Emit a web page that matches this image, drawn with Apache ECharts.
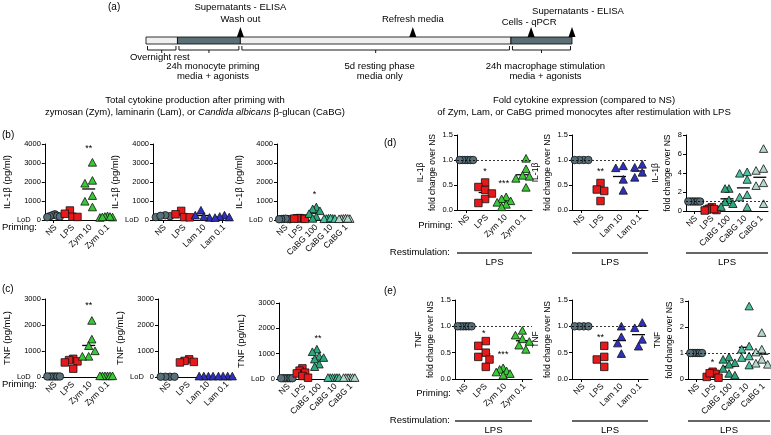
<!DOCTYPE html>
<html><head><meta charset="utf-8">
<script src="https://cdn.jsdelivr.net/npm/echarts@6/dist/echarts.min.js"></script>
<style>html,body{margin:0;padding:0;background:#fff}#c{width:771px;height:435px}</style>
</head><body><div id="c"></div>
<script>
// ================= DATA =================
// (a) timeline (schematic units along the bar)
const timelinePhases = ['Overnight rest', '24h monocyte priming', '5d resting phase', '24h macrophage stimulation'];
const timelinePhases2 = ['', 'media + agonists', 'media only', 'media + agonists'];
const timelineStart = [0, 0.5, 1.5, 5.8];
const timelineEnd = [0.5, 1.5, 5.8, 6.77];
const timelineEvents = [['Supernatants - ELISA', 'Wash out'], ['Refresh media'], ['Cells - qPCR'], ['Supernatants - ELISA']];
const timelineEventAt = [1.5, 4.24, 6.12, 6.77];

// categories
const catsZym = ['NS', 'LPS', 'Zym 10', 'Zym 0.1'];
const catsLam = ['NS', 'LPS', 'Lam 10', 'Lam 0.1'];
const catsCaBG = ['NS', 'LPS', 'CaBG 100', 'CaBG 10', 'CaBG 1'];

// (b) IL-1β pg/ml
const il1bZym = [[300, 250, 200, 150, 220, 180], [500, 330, 170, 160], [3000, 2050, 1900, 1250, 950, 650], [180, 150, 120, 100, 150, 130]];
const il1bLam = [[200, 250, 150, 220], [480, 300, 150, 140], [480, 220, 100, 140], [220, 150, 90, 120]];
const il1bCaBG = [[60, 40, 50, 70, 50, 40], [100, 80, 60, 90, 70], [650, 550, 450, 300, 150, 50], [60, 40, 50, 30, 70, 40], [50, 40, 60, 30, 40, 50]];
// (c) TNF pg/mL
const tnfZym = [[20, 20, 20, 20, 20, 20], [700, 650, 600, 560, 320], [2150, 1430, 1180, 980, 770, 770], [20, 20, 20, 20, 20, 20]];
const tnfLam = [[10, 10, 10, 10], [680, 620, 580, 560], [10, 10, 10, 10], [10, 10, 10, 10]];
const tnfCaBG = [[30, 30, 30, 30, 30, 30], [420, 330, 250, 220, 120, 50], [1150, 1050, 870, 820, 760, 560, 460], [30, 30, 30, 30, 30, 30], [30, 30, 30, 30, 30, 30]];
// (d) IL-1β fold change over NS
const foldIl1bZym = [[1, 1, 1, 1, 1, 1], [0.55, 0.46, 0.40, 0.33, 0.22, 0.14], [0.25, 0.21, 0.17, 0.14, 0.10, 0.05], [1.02, 0.81, 0.68, 0.66, 0.62, 0.44]];
const foldIl1bLam = [[1, 1, 1, 1], [0.54, 0.41, 0.38, 0.18], [0.87, 0.83, 0.60, 0.38], [0.90, 0.84, 0.74, 0.64]];
const foldIl1bCaBG = [[1, 1, 1, 1, 1, 1], [0.40, 0.25, 0.15, 0.10, 0.20, 0.05], [2.3, 2.3, 1.1, 0.9, 0.7, 0.4], [4.05, 3.9, 3.25, 1.65, 1.4, 0.35], [6.5, 4.4, 4.2, 2.9, 2.6, 0.7]];
// (e) TNF fold change over NS
const foldTnfZym = [[1, 1, 1, 1, 1, 1], [0.72, 0.63, 0.50, 0.42, 0.37, 0.23], [0.20, 0.17, 0.14, 0.12, 0.09, 0.06], [0.91, 0.82, 0.75, 0.70, 0.63, 0.55]];
const foldTnfLam = [[1, 1, 1, 1], [0.63, 0.42, 0.37, 0.23], [0.99, 0.79, 0.67, 0.47], [1.06, 0.96, 0.74, 0.61]];
const foldTnfCaBG = [[1, 1, 1, 1, 1, 1], [0.28, 0.20, 0.08, 0.05, 0.22], [0.82, 0.73, 0.60, 0.54, 0.38, 0.19, 0.12], [2.78, 1.24, 1.12, 0.86, 0.80, 0.51], [1.76, 1.12, 1.01, 0.73, 0.58, 0.54]];

// significance marks: [category, text, height]
const sigB1 = [['Zym 10', '**', 3750]];
const sigB2 = [];
const sigB3 = [['CaBG 100', '*', 1350]];
const sigC1 = [['Zym 10', '**', 2750]];
const sigC2 = [];
const sigC3 = [['CaBG 100', '**', 1600]];
const sigD1 = [['LPS', '*', 0.76], ['Zym 10', '***', 0.52]];
const sigD2 = [['LPS', '**', 0.77]];
const sigD3 = [];
const sigE1 = [['LPS', '*', 0.87], ['Zym 10', '***', 0.46]];
const sigE2 = [['LPS', '**', 0.78]];
const sigE3 = [['LPS', '*', 0.62]];

// ================= STYLE / LAYOUT =================
const FONT = 'Liberation Sans, Arial, sans-serif';
const catColor = {
  'NS': '#587079', 'LPS': '#e8191b',
  'Zym 10': '#39c936', 'Zym 0.1': '#39c936',
  'Lam 10': '#3030c0', 'Lam 0.1': '#3030c0',
  'CaBG 100': '#2aa87c', 'CaBG 10': '#4cc3a0', 'CaBG 1': '#b2d9cb'
};
const SYM = 7.5;

const plots = [
  {cats: catsZym, vals: il1bZym, sig: sigB1, max: 4000, step: 1000, name: 'IL-1β (pg/ml)', lod: true, ref: false, fmt: 0, g: {left: 42, top: 144, width: 73, height: 76}, gap: 16, nfs: 9.5},
  {cats: catsLam, vals: il1bLam, sig: sigB2, max: 4000, step: 1000, name: 'IL-1β (pg/ml)', lod: true, ref: false, fmt: 0, g: {left: 153, top: 144, width: 79, height: 76}, gap: 16, nfs: 9.5},
  {cats: catsCaBG, vals: il1bCaBG, sig: sigB3, max: 4000, step: 1000, name: 'IL-1β (pg/ml)', lod: true, ref: false, fmt: 0, g: {left: 277, top: 144, width: 75, height: 76}, gap: 16, nfs: 9.5},
  {cats: catsZym, vals: tnfZym, sig: sigC1, max: 3000, step: 1000, name: 'TNF (pg/mL)', lod: true, ref: false, fmt: 0, g: {left: 42, top: 299, width: 73, height: 78}, gap: 16, nfs: 9.5},
  {cats: catsLam, vals: tnfLam, sig: sigC2, max: 3000, step: 1000, name: 'TNF (pg/mL)', lod: true, ref: false, fmt: 0, g: {left: 158, top: 299, width: 77, height: 78}, gap: 16, nfs: 9.5},
  {cats: catsCaBG, vals: tnfCaBG, sig: sigC3, max: 3000, step: 1000, name: 'TNF (pg/mL)', lod: true, ref: false, fmt: 0, g: {left: 279, top: 303, width: 78, height: 76}, gap: 16, nfs: 9.5},
  {cats: catsZym, vals: foldIl1bZym, sig: sigD1, max: 1.5, step: 0.5, name: 'IL-1β\nfold change over NS', lod: false, ref: true, fmt: 1, g: {left: 457, top: 135, width: 75, height: 75}, gap: 8, nfs: 8.5},
  {cats: catsLam, vals: foldIl1bLam, sig: sigD2, max: 1.5, step: 0.5, name: 'IL-1β\nfold change over NS', lod: false, ref: true, fmt: 1, g: {left: 572, top: 135, width: 76, height: 75}, gap: 8, nfs: 8.5},
  {cats: catsCaBG, vals: foldIl1bCaBG, sig: sigD3, max: 8, step: 2, name: 'IL-1β\nfold change over NS', lod: false, ref: true, fmt: 0, g: {left: 686, top: 135, width: 82, height: 76}, gap: 8, nfs: 8.5},
  {cats: catsZym, vals: foldTnfZym, sig: sigE1, max: 1.5, step: 0.5, name: 'TNF\nfold change over NS', lod: false, ref: true, fmt: 1, g: {left: 455, top: 300, width: 77, height: 79}, gap: 8, nfs: 8.5},
  {cats: catsLam, vals: foldTnfLam, sig: sigE2, max: 1.5, step: 0.5, name: 'TNF\nfold change over NS', lod: false, ref: true, fmt: 1, g: {left: 572, top: 300, width: 76, height: 79}, gap: 8, nfs: 8.5},
  {cats: catsCaBG, vals: foldTnfCaBG, sig: sigE3, max: 3, step: 1, name: 'TNF\nfold change over NS', lod: false, ref: true, fmt: 0, g: {left: 688, top: 301, width: 82, height: 78}, gap: 8, nfs: 8.5}
];

// ================= HELPERS =================
function mean(a) { return a.reduce((s, v) => s + v, 0) / a.length; }
function swarm(ys, size, maxHalf) {
  const idx = ys.map((y, i) => i).sort((a, b) => ys[a] - ys[b]);
  const off = new Array(ys.length).fill(0);
  const placed = [];
  const step = size * 0.5;
  idx.forEach(i => {
    let k = 0, cand = 0;
    while (k < 60) {
      cand = k === 0 ? 0 : (k % 2 === 1 ? -Math.ceil(k / 2) * step : Math.ceil(k / 2) * step);
      const ok = placed.every(j => Math.hypot(off[j] - cand, ys[j] - ys[i]) >= size * 0.95);
      if (ok) break;
      k++;
    }
    off[i] = cand; placed.push(i);
  });
  const mn = Math.min(...off), mx = Math.max(...off);
  const mid = (mn + mx) / 2;
  for (let i = 0; i < off.length; i++) off[i] -= mid;
  const m = Math.max(...off.map(Math.abs));
  if (m > maxHalf) { const f = maxHalf / m; for (let i = 0; i < off.length; i++) off[i] *= f; }
  return off;
}
function marker(name, x, y) {
  const style = {fill: catColor[name], stroke: '#111', lineWidth: 0.8};
  const s = SYM;
  if (name === 'NS') return {type: 'circle', shape: {cx: x, cy: y, r: s / 2}, style};
  if (name === 'LPS') return {type: 'rect', shape: {x: x - s / 2, y: y - s / 2, width: s, height: s}, style};
  return {type: 'polygon', shape: {points: [[x, y - s * 0.6], [x - s * 0.55, y + s * 0.42], [x + s * 0.55, y + s * 0.42]]}, style};
}

// ================= OPTION =================
const grid = [], xAxis = [], yAxis = [], series = [];

plots.forEach((p, gi) => {
  grid.push(Object.assign({containLabel: false}, p.g));
  xAxis.push({
    type: 'category', gridIndex: gi, data: p.cats, boundaryGap: true,
    axisLine: {lineStyle: {color: '#000', width: 1}},
    axisTick: {show: true, alignWithLabel: true, length: 3, lineStyle: {color: '#000'}},
    axisLabel: {show: false}
  });
  yAxis.push({
    type: 'value', gridIndex: gi, min: 0, max: p.max, interval: p.step,
    name: p.name, nameLocation: 'middle', nameGap: p.gap,
    nameTextStyle: {fontSize: p.nfs, fontFamily: FONT, color: '#000', lineHeight: 12},
    axisLine: {show: true, lineStyle: {color: '#000', width: 1}},
    axisTick: {show: true, length: 3, lineStyle: {color: '#000'}},
    splitLine: {show: false},
    axisLabel: {
      fontSize: 7.5, fontFamily: FONT, color: '#000', margin: 4,
      formatter: v => (p.lod && v === 0) ? '{l|LoD}{z|0}' : v.toFixed(p.fmt),
      rich: {l: {fontSize: 7.5, fontFamily: FONT, color: '#000', padding: [0, 6, 0, 0]}, z: {fontSize: 7.5, fontFamily: FONT, color: '#000'}}
    }
  });
  // rotated category labels (down-left from each tick)
  series.push({
    type: 'custom', xAxisIndex: gi, yAxisIndex: gi, z: 5, silent: true,
    data: p.cats.map((c, ci) => [ci, 0]),
    renderItem: (params, api) => {
      const c = api.coord([api.value(0), 0]);
      return {type: 'text', x: c[0] + 2, y: c[1] + 6, rotation: Math.PI / 4,
        style: {text: p.cats[api.value(0)], fill: '#000', fontSize: 8.5, fontFamily: FONT, align: 'right', verticalAlign: 'middle'}};
    }
  });
  // mean lines (+ reference line at 1)
  series.push({
    type: 'custom', xAxisIndex: gi, yAxisIndex: gi, z: 2, silent: true,
    data: p.cats.map((c, ci) => [ci, mean(p.vals[ci])]),
    renderItem: (params, api) => {
      const c = api.coord([api.value(0), api.value(1)]);
      return {type: 'line', shape: {x1: c[0] - 6.5, y1: c[1], x2: c[0] + 6.5, y2: c[1]}, style: {stroke: '#000', lineWidth: 1.3}};
    },
    markLine: p.ref ? {silent: true, symbol: 'none', label: {show: false},
      lineStyle: {color: '#000', type: [2, 2], width: 0.8}, data: [{yAxis: 1}]} : undefined
  });
  // points
  const pts = [];
  p.vals.forEach((arr, ci) => arr.forEach((v, pi) => pts.push([ci, v, pi])));
  series.push({
    type: 'custom', xAxisIndex: gi, yAxisIndex: gi, z: 3, silent: true, data: pts,
    renderItem: (params, api) => {
      const ci = api.value(0), v = api.value(1), pi = api.value(2);
      const band = api.size([1, 0])[0];
      const ys = p.vals[ci].map(val => api.coord([ci, val])[1]);
      const offs = swarm(ys, SYM, band * 0.36);
      const c = api.coord([ci, v]);
      return marker(p.cats[ci], c[0] + offs[pi], c[1]);
    }
  });
  // significance
  if (p.sig.length) series.push({
    type: 'custom', xAxisIndex: gi, yAxisIndex: gi, z: 4, silent: true,
    data: p.sig.map((s, k) => [p.cats.indexOf(s[0]), s[2], k]),
    renderItem: (params, api) => {
      const c = api.coord([api.value(0), api.value(1)]);
      return {type: 'text', x: c[0], y: c[1], style: {text: p.sig[api.value(2)][1], fill: '#000', fontSize: 9, fontFamily: FONT, align: 'center', verticalAlign: 'middle'}};
    }
  });
});

// timeline grid
const tg = plots.length;
grid.push({left: 146, top: 37, width: 426, height: 7});
xAxis.push({type: 'value', gridIndex: tg, min: 0, max: 6.77, show: false});
yAxis.push({type: 'value', gridIndex: tg, min: 0, max: 1, show: false});
const phaseDark = [false, true, false, true];
const phaseRow = [0, 1, 1, 1];
series.push({
  type: 'custom', xAxisIndex: tg, yAxisIndex: tg, silent: true, z: 2,
  data: timelineStart.map((s, i) => [s, timelineEnd[i], i]),
  renderItem: (params, api) => {
    const i = api.value(2);
    const a = api.coord([api.value(0), 1]), b = api.coord([api.value(1), 0]);
    const x0 = a[0], x1 = b[0], top = a[1], bot = b[1], mid = (x0 + x1) / 2;
    const bs = {stroke: '#000', lineWidth: 0.9, fill: null};
    const by = bot + 6;
    const kids = [
      {type: 'rect', shape: {x: x0, y: top, width: x1 - x0, height: bot - top}, style: {fill: phaseDark[i] ? '#5b6f77' : '#efefef', stroke: '#000', lineWidth: 0.8}},
      {type: 'polyline', shape: {points: [[x0 + 1.5, bot + 2], [x0 + 1.5, by], [x1 - 1.5, by], [x1 - 1.5, bot + 2]]}, style: bs},
      {type: 'line', shape: {x1: mid, y1: by, x2: mid, y2: by + 3}, style: bs}
    ];
    const ts = {fill: '#000', fontSize: 9.5, fontFamily: FONT, align: 'center', verticalAlign: 'middle'};
    if (phaseRow[i] === 0) {
      kids.push({type: 'text', x: mid - 2, y: bot + 13, style: Object.assign({text: timelinePhases[i]}, ts)});
    } else {
      kids.push({type: 'text', x: mid + 4, y: bot + 22, style: Object.assign({text: timelinePhases[i]}, ts)});
      kids.push({type: 'text', x: mid + 4, y: bot + 32, style: Object.assign({text: timelinePhases2[i]}, ts)});
    }
    return {type: 'group', children: kids};
  }
});
const eventLastY = [-18, -18, -15, -26];
const eventDx = [0, 0, -2, 6];
series.push({
  type: 'custom', xAxisIndex: tg, yAxisIndex: tg, silent: true, z: 3,
  data: timelineEventAt.map((t, i) => [t, i]),
  renderItem: (params, api) => {
    const i = api.value(1);
    const p = api.coord([api.value(0), 1]);
    const x = p[0], top = p[1];
    const kids = [{type: 'polygon', shape: {points: [[x - 3.5, top], [x + 3.5, top], [x, top - 10]]}, style: {fill: '#000'}}];
    const lines = timelineEvents[i];
    lines.forEach((t, k) => {
      kids.push({type: 'text', x: x + eventDx[i], y: top + eventLastY[i] - (lines.length - 1 - k) * 12,
        style: {text: t, fill: '#000', fontSize: 9.5, fontFamily: FONT, align: 'center', verticalAlign: 'middle'}});
    });
    return {type: 'group', children: kids};
  }
});

// annotations
const T = (x, y, text, o) => ({type: 'text', x, y, style: Object.assign({text, fill: '#000', fontSize: 9.5, fontFamily: FONT, align: 'left', verticalAlign: 'middle'}, o || {})});
const graphic = [
  T(108, 7, '(a)', {fontSize: 10}),
  T(2, 135, '(b)', {fontSize: 10}),
  T(2, 289, '(c)', {fontSize: 10}),
  T(384, 143, '(d)', {fontSize: 10}),
  T(384, 291, '(e)', {fontSize: 10}),
  T(195, 100, 'Total cytokine production after priming with', {align: 'center'}),
  {type: 'text', x: 195, y: 112, style: {
    text: '{n|zymosan (Zym), laminarin (Lam), or }{i|Candida albicans}{n| β-glucan (CaBG)}',
    align: 'center', verticalAlign: 'middle',
    rich: {n: {fontSize: 9.5, fontFamily: FONT, fill: '#000'}, i: {fontSize: 9.5, fontFamily: FONT, fontStyle: 'italic', fill: '#000'}}}},
  T(584, 100, 'Fold cytokine expression (compared to NS)', {align: 'center'}),
  T(584, 112, 'of Zym, Lam, or CaBG primed monocytes after restimulation with LPS', {align: 'center'}),
  T(2, 227, 'Priming:'),
  T(2, 384, 'Priming:'),
  T(453, 225, 'Priming:', {align: 'right'}),
  T(451, 393, 'Priming:', {align: 'right'}),
  T(450, 252, 'Restimulation:', {align: 'right'}),
  T(450, 420, 'Restimulation:', {align: 'right'})
];
[[6, 253, 262], [7, 253, 262], [8, 253, 262], [9, 421, 430], [10, 421, 430], [11, 421, 430]].forEach(r => {
  const g = plots[r[0]].g;
  graphic.push({type: 'line', shape: {x1: g.left, y1: r[1], x2: g.left + g.width, y2: r[1]}, style: {stroke: '#333', lineWidth: 1.6}});
  graphic.push(T(g.left + g.width / 2, r[2], 'LPS', {align: 'center'}));
});

const chart = echarts.init(document.getElementById('c'), null, {renderer: 'canvas'});
chart.setOption({animation: false, backgroundColor: '#fff', grid, xAxis, yAxis, series, graphic});
</script>
</body></html>
